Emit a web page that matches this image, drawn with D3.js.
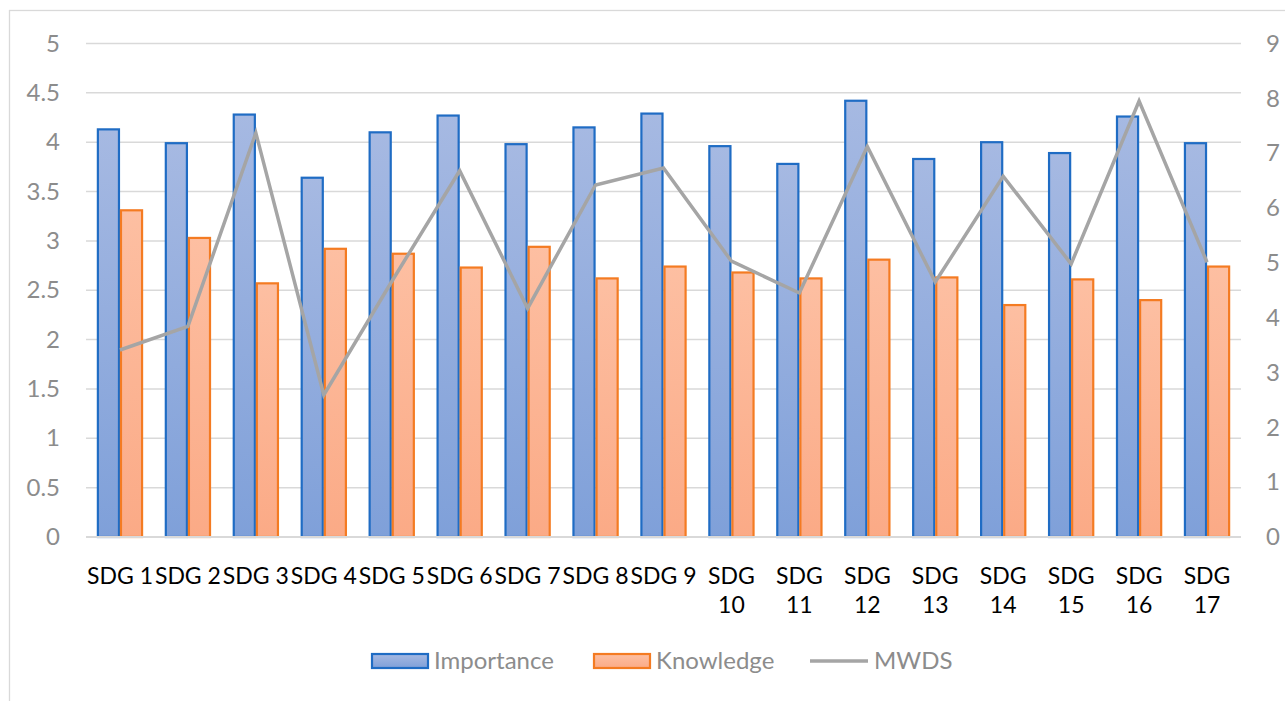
<!DOCTYPE html>
<html><head><meta charset="utf-8">
<script src="https://cdn.jsdelivr.net/npm/d3@7"></script>
<style>html,body{margin:0;padding:0;background:#fff;}svg{display:block;font-family:Lato,"Open Sans",sans-serif;}</style>
</head><body>
<svg id="chart" width="1285" height="701"></svg>
<script>
const categories = ["SDG 1","SDG 2","SDG 3","SDG 4","SDG 5","SDG 6","SDG 7","SDG 8","SDG 9","SDG 10","SDG 11","SDG 12","SDG 13","SDG 14","SDG 15","SDG 16","SDG 17"];
const importance = [4.13,3.99,4.28,3.64,4.10,4.27,3.98,4.15,4.29,3.96,3.78,4.42,3.83,4.00,3.89,4.26,3.99];
const knowledge  = [3.31,3.03,2.57,2.92,2.87,2.73,2.94,2.62,2.74,2.68,2.62,2.81,2.63,2.35,2.61,2.40,2.74];
const mwds       = [3.41,3.84,7.37,2.59,4.66,6.68,4.17,6.42,6.73,5.03,4.45,7.12,4.65,6.58,4.98,7.95,5.01];
const leftTicks  = [0,0.5,1,1.5,2,2.5,3,3.5,4,4.5,5];
const rightTicks = [0,1,2,3,4,5,6,7,8,9];
const seriesNames = ["Importance","Knowledge","MWDS"];

const svg = d3.select("#chart");
const L = 86, R = 1241, T = 43.5, B = 537;

// outer frame
svg.append("rect").attr("x",9.5).attr("y",10.5).attr("width",1400).attr("height",800)
  .attr("fill","none").attr("stroke","#d9d9d9").attr("stroke-width",1.3);

const defs = svg.append("defs");
const g1 = defs.append("linearGradient").attr("id","gImp").attr("x1",0).attr("y1",0).attr("x2",0).attr("y2",1);
g1.append("stop").attr("offset","0%").attr("stop-color","#a6b9e2");
g1.append("stop").attr("offset","100%").attr("stop-color","#7fa0d9");
const g2 = defs.append("linearGradient").attr("id","gKn").attr("x1",0).attr("y1",0).attr("x2",0).attr("y2",1);
g2.append("stop").attr("offset","0%").attr("stop-color","#fdbfa2");
g2.append("stop").attr("offset","100%").attr("stop-color","#fbaa86");

const x = d3.scaleBand().domain(categories).range([L,R]).paddingInner(0.32).paddingOuter(0.16);
const xs = d3.scaleBand().domain(["Importance","Knowledge"]).range([0,x.bandwidth()]);
const yL = d3.scaleLinear().domain([0,5]).range([B,T]);
const yR = d3.scaleLinear().domain([0,9]).range([B,T]);

// gridlines
svg.append("g").selectAll("line").data(leftTicks.filter(d=>d>0)).join("line")
  .attr("x1",L).attr("x2",R).attr("y1",d=>yL(d)).attr("y2",d=>yL(d))
  .attr("stroke","#d9d9d9").attr("stroke-width",1.5);

// left axis labels
const axL = svg.append("g").attr("transform",`translate(${L-26},0)`)
  .call(d3.axisLeft(yL).tickValues(leftTicks).tickFormat(d=>String(d)).tickSize(0).tickPadding(0));
axL.select(".domain").remove();
axL.selectAll("text").attr("font-size",24).attr("fill","#8c8c8c").attr("font-family","Lato");

// right axis labels
const axR = svg.append("g").attr("transform",`translate(${R+25},0)`)
  .call(d3.axisRight(yR).tickValues(rightTicks).tickFormat(d=>String(d)).tickSize(0).tickPadding(0));
axR.select(".domain").remove();
axR.selectAll("text").attr("font-size",24).attr("fill","#8c8c8c").attr("font-family","Lato");

// bars
const gb = svg.append("g");
gb.selectAll("rect.imp").data(categories).join("rect").attr("class","imp")
  .attr("x",(d)=>x(d)+xs("Importance")+1).attr("width",xs.bandwidth()-2)
  .attr("y",(d,i)=>yL(importance[i])).attr("height",(d,i)=>B-yL(importance[i]))
  .attr("fill","url(#gImp)").attr("stroke","#1f6cc4").attr("stroke-width",2.2);
gb.selectAll("rect.kn").data(categories).join("rect").attr("class","kn")
  .attr("x",(d)=>x(d)+xs("Knowledge")+1).attr("width",xs.bandwidth()-2)
  .attr("y",(d,i)=>yL(knowledge[i])).attr("height",(d,i)=>B-yL(knowledge[i]))
  .attr("fill","url(#gKn)").attr("stroke","#f47b22").attr("stroke-width",2.2);

// baseline
svg.append("line").attr("x1",L).attr("x2",R).attr("y1",B).attr("y2",B)
  .attr("stroke","#d9d9d9").attr("stroke-width",2);

// line
const line = d3.line().x((d,i)=>x(categories[i])+x.bandwidth()/2).y(d=>yR(d));
svg.append("path").datum(mwds).attr("d",line).attr("fill","none")
  .attr("stroke","#a5a5a5").attr("stroke-width",3.5).attr("stroke-linejoin","miter");

// x labels
const xl = svg.append("g").attr("font-size",23).attr("fill","#000").attr("font-family","Lato");
categories.forEach((c,i)=>{
  const cx = x(c)+x.bandwidth()/2;
  const parts = c.split(" ");
  if (+parts[1] < 10) {
    xl.append("text").attr("x",cx).attr("y",584).attr("text-anchor","middle").text(c);
  } else {
    const t = xl.append("text").attr("x",cx).attr("y",584).attr("text-anchor","middle");
    t.append("tspan").attr("x",cx).attr("y",584).text(parts[0]);
    t.append("tspan").attr("x",cx).attr("y",613).text(parts[1]);
  }
});

// legend
const lg = svg.append("g").attr("font-size",24).attr("fill","#8c8c8c").attr("font-family","Lato");
const ly = 661;
lg.append("rect").attr("x",372).attr("y",ly-7).attr("width",56).attr("height",14)
  .attr("fill","url(#gImp)").attr("stroke","#1f6cc4").attr("stroke-width",2.2);
lg.append("text").attr("x",434).attr("y",ly+8).text(seriesNames[0]);
lg.append("rect").attr("x",594).attr("y",ly-7).attr("width",56).attr("height",14)
  .attr("fill","url(#gKn)").attr("stroke","#f47b22").attr("stroke-width",2.2);
lg.append("text").attr("x",656).attr("y",ly+8).text(seriesNames[1]);
lg.append("line").attr("x1",810).attr("x2",868).attr("y1",ly).attr("y2",ly)
  .attr("stroke","#a5a5a5").attr("stroke-width",3.5);
lg.append("text").attr("x",874).attr("y",ly+8).text(seriesNames[2]);
</script>
</body></html>
